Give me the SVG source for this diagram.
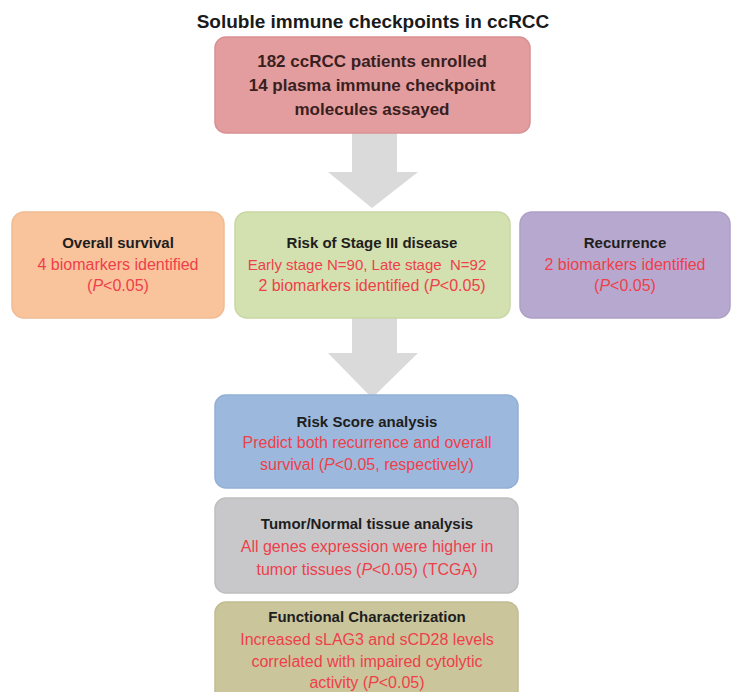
<svg xmlns="http://www.w3.org/2000/svg" width="735" height="692" viewBox="0 0 735 692">
<style>
text{font-family:"Liberation Sans",Arial,sans-serif;text-anchor:middle}
.t{font-size:19px;font-weight:bold;fill:#1a1a1a}
.h{font-size:17px;font-weight:bold;fill:#3a1f1f}
.b{font-size:15px;font-weight:bold;fill:#1e1e1e}
.r{font-size:16px;fill:#ee3f4a}
.s{font-size:15px}
.i{font-style:italic}
.box{stroke-width:1.5}
.arrow{fill:#dadada}
</style>
<rect width="735" height="692" fill="#ffffff"/>
<text class="t" x="373" y="28">Soluble immune checkpoints in ccRCC</text>
<g id="connectors">
<polygon class="arrow" points="352,133 397,133 397,172 418,172 372,208 328,172 352,172"/>
<polygon class="arrow" points="352,318 397,318 397,353 418,353 372,398 328,353 352,353"/>
</g>
<g id="enrolled">
<rect class="box" x="215" y="37" width="315" height="96" rx="11" fill="#e39d9f" stroke="#d99092"/>
<text class="h" x="372" y="67">182 ccRCC patients enrolled</text>
<text class="h" x="372" y="91">14 plasma immune checkpoint</text>
<text class="h" x="372" y="115">molecules assayed</text>
</g>
<g id="overall-survival">
<rect class="box" x="12" y="212" width="212" height="106" rx="12" fill="#f9c49c" stroke="#f0bb93"/>
<text class="b" x="118" y="248">Overall survival</text>
<text class="r" x="118" y="270">4 biomarkers identified</text>
<text class="r" x="118" y="291">(<tspan class="i">P</tspan>&lt;0.05)</text>
</g>
<g id="stage">
<rect class="box" x="235" y="212" width="275" height="106" rx="12" fill="#d3e0af" stroke="#c8d6a4"/>
<text class="b" x="372" y="248">Risk of Stage III disease</text>
<text class="r s" x="367" y="270">Early stage N=90, Late stage&#160; N=92</text>
<text class="r" x="372" y="291">2 biomarkers identified (<tspan class="i">P</tspan>&lt;0.05)</text>
</g>
<g id="recurrence">
<rect class="box" x="520" y="212" width="210" height="106" rx="12" fill="#b7a8cf" stroke="#ada0c6"/>
<text class="b" x="625" y="248">Recurrence</text>
<text class="r" x="625" y="270">2 biomarkers identified</text>
<text class="r" x="625" y="291">(<tspan class="i">P</tspan>&lt;0.05)</text>
</g>
<g id="risk-score">
<rect class="box" x="215" y="395" width="303" height="93" rx="11" fill="#9cb8dc" stroke="#93afd4"/>
<text class="b" x="367" y="427">Risk Score analysis</text>
<text class="r" x="367" y="448">Predict both recurrence and overall</text>
<text class="r" x="367" y="470">survival (<tspan class="i">P</tspan>&lt;0.05, respectively)</text>
</g>
<g id="tumor-normal">
<rect class="box" x="215" y="498" width="303" height="95" rx="11" fill="#c8c8ca" stroke="#bebec0"/>
<text class="b" x="367" y="529">Tumor/Normal tissue analysis</text>
<text class="r" x="367" y="552">All genes expression were higher in</text>
<text class="r" x="367" y="575">tumor tissues (<tspan class="i">P</tspan>&lt;0.05) (TCGA)</text>
</g>
<g id="functional">
<rect class="box" x="215" y="602" width="303" height="100" rx="11" fill="#cbc59c" stroke="#c2bc92"/>
<text class="b" x="367" y="622">Functional Characterization</text>
<text class="r" x="367" y="645">Increased sLAG3 and sCD28 levels</text>
<text class="r" x="367" y="667">correlated with impaired cytolytic</text>
<text class="r" x="367" y="688">activity (<tspan class="i">P</tspan>&lt;0.05)</text>
</g>
</svg>
